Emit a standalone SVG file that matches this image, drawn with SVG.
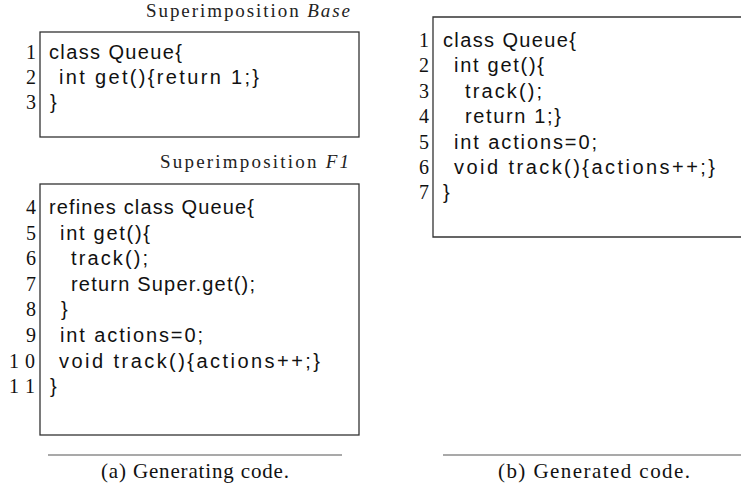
<svg xmlns="http://www.w3.org/2000/svg" width="741" height="491" viewBox="0 0 741 491">
<style>
.bg{fill:#fff}
.box{fill:none;stroke:#333;stroke-width:1.3}
.rule{stroke:#555;stroke-width:1.2}
.code{font-family:"Liberation Sans",Arial,sans-serif;font-size:20px;fill:#111}
.num{font-family:"Liberation Serif","Times New Roman",serif;font-size:20px;fill:#111;text-anchor:end}
.num2{font-family:"Liberation Serif","Times New Roman",serif;font-size:20px;fill:#111}
.title{font-family:"Liberation Serif","Times New Roman",serif;font-size:19px;fill:#222}
.cap{font-family:"Liberation Serif","Times New Roman",serif;font-size:21px;fill:#111;text-anchor:middle}
.it{font-style:italic}
</style>
<rect class="bg" x="0" y="0" width="741" height="491"/>

<g id="base">
  <text class="title" x="146" y="17" textLength="204">Superimposition <tspan class="it">Base</tspan></text>
  <rect class="box" x="40" y="32" width="319" height="105"/>
  <text class="num" x="36" y="59">1</text>
  <text class="num" x="36" y="84">2</text>
  <text class="num" x="36" y="109">3</text>
  <text class="code" x="49" y="59" textLength="133">class Queue{</text>
  <text class="code" x="59" y="84" textLength="200">int get(){return 1;}</text>
  <text class="code" x="50" y="109">}</text>
</g>

<g id="f1">
  <text class="title" x="160" y="168" textLength="189">Superimposition <tspan class="it">F1</tspan></text>
  <rect class="box" x="40" y="184" width="319" height="251"/>
  <text class="num" x="36" y="214">4</text>
  <text class="num" x="36" y="239.6">5</text>
  <text class="num" x="36" y="265.2">6</text>
  <text class="num" x="36" y="290.8">7</text>
  <text class="num" x="36" y="316.4">8</text>
  <text class="num" x="36" y="342">9</text>
  <text class="num2" x="9" y="367.6" textLength="26">10</text>
  <text class="num2" x="9" y="393.2" textLength="26">11</text>
  <text class="code" x="49" y="214" textLength="205">refines class Queue{</text>
  <text class="code" x="60" y="239.6" textLength="90">int get(){</text>
  <text class="code" x="71" y="265.2" textLength="77">track();</text>
  <text class="code" x="71" y="290.8" textLength="184">return Super.get();</text>
  <text class="code" x="61" y="316.4">}</text>
  <text class="code" x="60" y="342" textLength="143">int actions=0;</text>
  <text class="code" x="59" y="367.6" textLength="261">void track(){actions++;}</text>
  <text class="code" x="50" y="393.2">}</text>
</g>

<g id="generated">
  <path class="box" d="M742,17 H433 V237 H742"/>
  <text class="num" x="429" y="47">1</text>
  <text class="num" x="429" y="72.4">2</text>
  <text class="num" x="429" y="97.8">3</text>
  <text class="num" x="429" y="123.2">4</text>
  <text class="num" x="429" y="148.6">5</text>
  <text class="num" x="429" y="174">6</text>
  <text class="num" x="429" y="199.4">7</text>
  <text class="code" x="443" y="47" textLength="133">class Queue{</text>
  <text class="code" x="454" y="72.4" textLength="90">int get(){</text>
  <text class="code" x="465" y="97.8" textLength="77">track();</text>
  <text class="code" x="465" y="123.2" textLength="96">return 1;}</text>
  <text class="code" x="454" y="148.6" textLength="143">int actions=0;</text>
  <text class="code" x="454" y="174" textLength="261">void track(){actions++;}</text>
  <text class="code" x="443" y="199.4">}</text>
</g>

<g id="captions">
  <line class="rule" x1="48" y1="455" x2="342" y2="455"/>
  <text class="cap" x="195" y="478" textLength="188">(a) Generating code.</text>
  <line class="rule" x1="443" y1="455" x2="742" y2="455"/>
  <text class="cap" x="594" y="478" textLength="192">(b) Generated code.</text>
</g>
</svg>
